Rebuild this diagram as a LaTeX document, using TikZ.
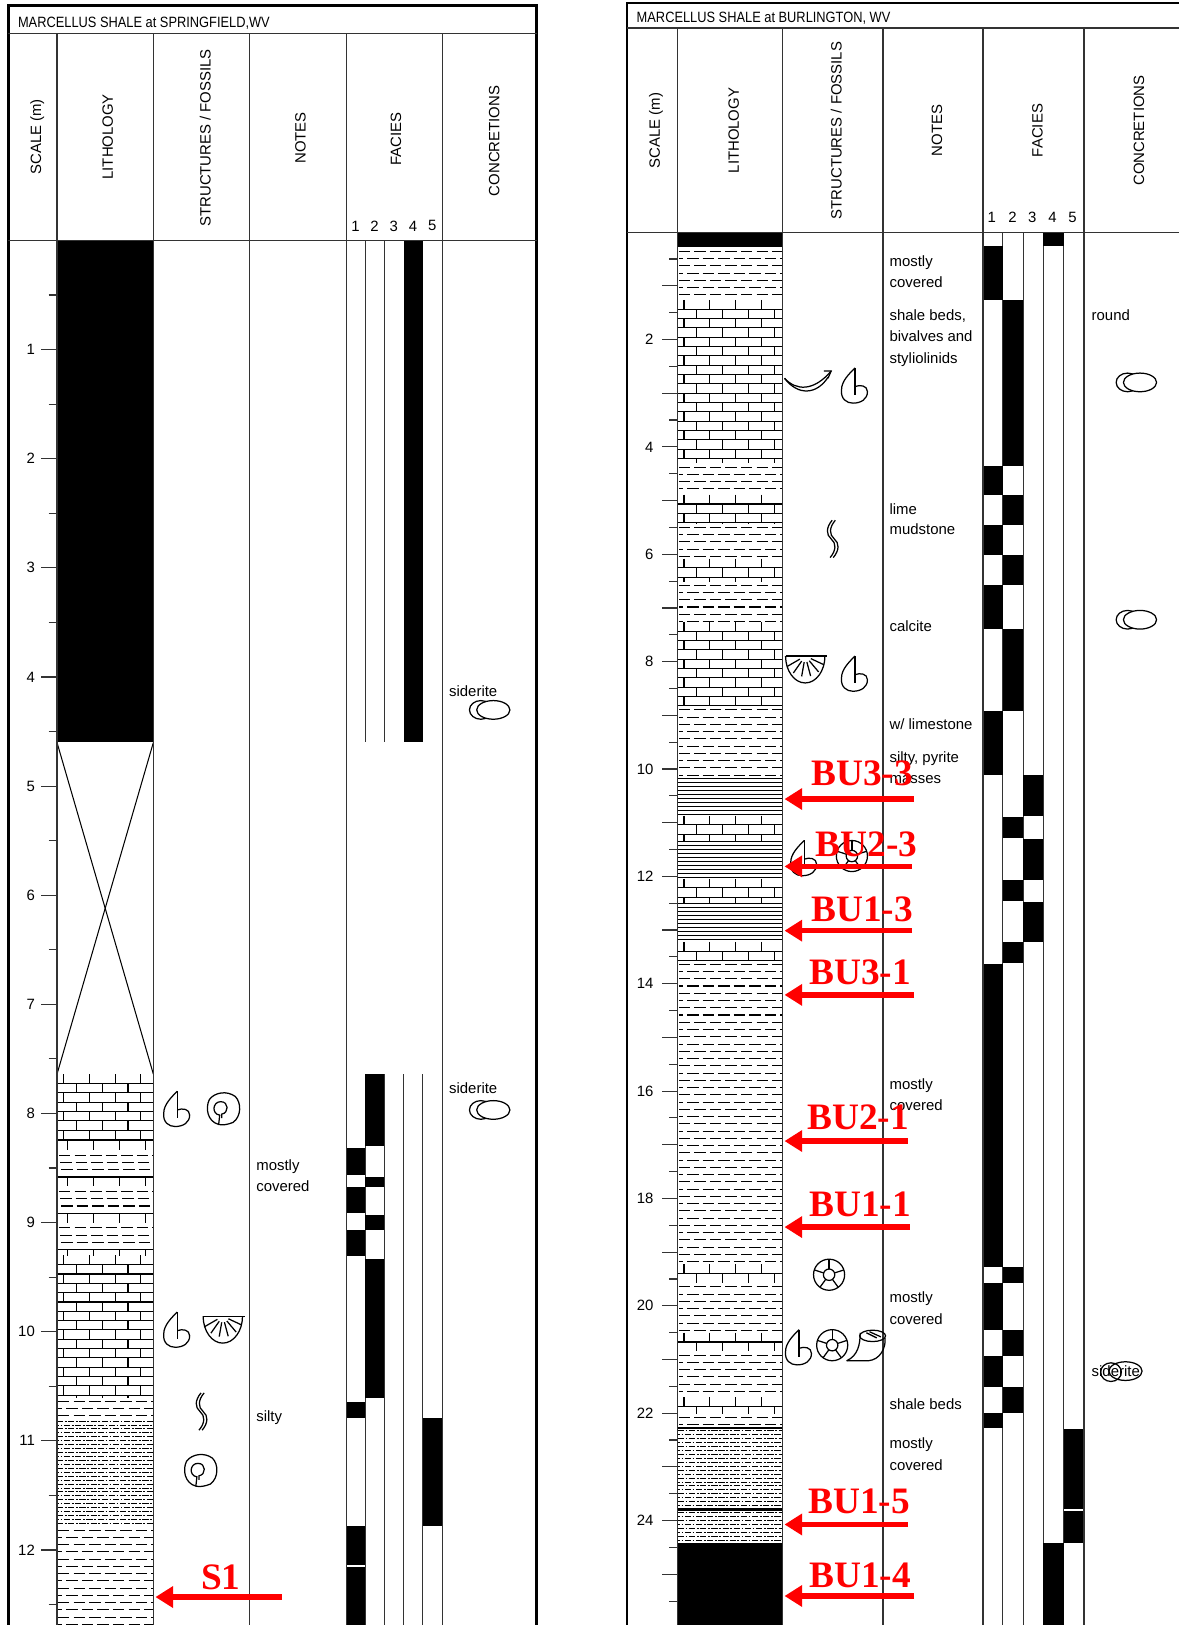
\documentclass[tikz,border=0pt]{standalone}
\usepackage{fontspec}
\setmainfont{Liberation Sans}
\newfontfamily\labfont{Liberation Serif}
\usetikzlibrary{arrows.meta}

% lithology patterns: #1 x-left, #2 x-right, #3 y-top, #4 y-bottom
\newcommand\ShalePat[4]{%
 \begin{scope}
  \clip (#1,#3) rectangle (#2,#4);
  \pgfmathtruncatemacro\nr{((#4)-(#3))/7+1}
  \foreach \ri in {0,...,\nr}{
    \pgfmathsetmacro\yy{#3+4+7*\ri}
    \pgfmathsetmacro\ph{mod(\ri,2)*3.5}
    \draw[litho, dash pattern=on 5.5pt off 2pt, dash phase=\ph pt] (#1+1,\yy) -- (#2,\yy);
  }
 \end{scope}}
\newcommand\LimePat[4]{%
 \begin{scope}
  \clip (#1,#3) rectangle (#2,#4);
  \pgfmathtruncatemacro\nr{((#4)-(#3))/9+1}
  \foreach \ri in {0,...,\nr}{
    \pgfmathsetmacro\ya{#3+9*\ri}
    \pgfmathsetmacro\yb{\ya+9}
    \pgfmathsetmacro\off{mod(\ri,2)*12.5}
    \draw[litho] (#1,\yb) -- (#2,\yb);
    \foreach \ci in {0,...,4}{
      \draw[litho] ({#1+6+\off+25*\ci},\ya) -- ({#1+6+\off+25*\ci},\yb);
    }
  }
 \end{scope}}
\newcommand\InterPat[4]{%
 \begin{scope}
  \clip (#1,#3) rectangle (#2,#4);
  \pgfmathtruncatemacro\nr{((#4)-(#3))/35+1}
  \foreach \ri in {0,...,\nr}{
    \pgfmathsetmacro\ya{#3+35*\ri}
    \draw[litho] (#1,\ya) -- (#2,\ya);
    \foreach \ci in {0,...,4}{ \draw[litho] ({#1+10+25*\ci},\ya) -- ({#1+10+25*\ci},\ya+9); }
    \foreach \kk in {14,21,28}{ \draw[litho, dash pattern=on 5.5pt off 2pt, dash phase=\kk pt] (#1,\ya+\kk) -- (#2,\ya+\kk); }
  }
 \end{scope}}
\newcommand\SiltPat[4]{%
 \begin{scope}
  \clip (#1,#3) rectangle (#2,#4);
  \pgfmathtruncatemacro\nr{((#4)-(#3))/3.8+1}
  \foreach \ri in {0,...,\nr}{
    \pgfmathsetmacro\yy{#3+2+3.8*\ri}
    \pgfmathsetmacro\ph{mod(\ri,2)*2}
    \draw[litho, line width=0.45pt, dash pattern=on 3pt off 0.8pt on 0.8pt off 0.8pt, dash phase=\ph pt] (#1,\yy) -- (#2,\yy);
  }
 \end{scope}}
\newcommand\LamPat[4]{%
 \begin{scope}
  \clip (#1,#3) rectangle (#2,#4);
  \pgfmathtruncatemacro\nr{((#4)-(#3))/3.9+1}
  \foreach \ri in {0,...,\nr}{
    \pgfmathsetmacro\yy{#3+1+3.9*\ri}
    \draw[litho, line width=0.45pt] (#1,\yy) -- (#2,\yy);
  }
 \end{scope}}
\newcommand\FB[4]{\fill (#1,#3) rectangle (#2,#4);}

\tikzset{
 gastro/.pic={
   \draw[fos] (1,-17) .. controls (-5,-11) and (-12,-4) .. (-12,4)
      .. controls (-13,13) and (-7,17) .. (-1,17)
      .. controls (7,17) and (13,13) .. (13,6)
      .. controls (13,0) and (6,-1) .. (1,1);
   \draw[fos] (1,-17) -- (1,9);
 },
 ammon/.pic={
   \draw[fos] (-4,16) .. controls (-15,13) and (-17,0) .. (-13,-8)
      .. controls (-8,-15) and (4,-17) .. (12,-11)
      .. controls (18,-5) and (18,8) .. (10,14)
      .. controls (5,16) and (0,17) .. (-4,16);
   \draw[fos] (-4,16) -- (-3,7) .. controls (-11,6) and (-10,-6) .. (-2,-6)
      .. controls (6,-6) and (6,5) .. (-1,6) -- (-1,10);
 },
 brach/.pic={
   \draw[fos] (-19,-12) -- (21,-12);
   \draw[fos] (19,-12) arc[start angle=0,end angle=180,x radius=19,y radius=26];
   \foreach \aa in {25,50,75,100,125,150}{ \draw[fos] (0,-12) ++(\aa:6) -- ++(\aa:14); }
 },
 burrow/.pic={
   \draw[fos] (1,-18) .. controls (-5,-11) and (-5,-4) .. (0,0) .. controls (5,4) and (5,11) .. (-1,18);
   \draw[fos] (4,-18) .. controls (-2,-11) and (-2,-4) .. (3,0) .. controls (8,4) and (8,11) .. (2,18);
 },
 crinoid/.pic={
   \draw[fos] (0,0) circle[radius=15];
   \draw[fos] (0,0) circle[radius=5.5];
   \foreach \aa in {-90,-18,54,126,198}{ \draw[fos] (\aa:5.5) -- (\aa:15); }
 },
 bivalve/.pic={
   \draw[fos] (-23,-3) .. controls (-12,9) and (5,10) .. (22,-10);
   \draw[fos] (-23,-3) .. controls (-10,14) and (8,13) .. (19,-4);
   \draw[fos] (15,-10) -- (22,-10) -- (19,-3);
 },
 horncoral/.pic={
   \draw[fos] (-19,16) .. controls (-8,11) and (-6,0) .. (-6,-11);
   \draw[fos] (-19,16) -- (2,16) .. controls (13,15) and (19,4) .. (18,-6);
   \draw[fos] (6,-8) ellipse[x radius=12.5, y radius=5.5];
   \draw[fos] (0,-11) -- (10,-6); \draw[fos] (3,-12) -- (14,-7);
 },
 concr/.pic={
   \draw[fos] (-8,0) ellipse[x radius=11, y radius=9];
   \fill[white] (4,0) ellipse[x radius=16, y radius=9];
   \draw[fos] (4,0) ellipse[x radius=16, y radius=9];
 },
}

\begin{document}
\begin{tikzpicture}[x=0.5pt,y=-0.5pt,
  frame/.style={line width=1.3pt, draw=black},
  grid/.style={line width=0.55pt, draw=black!80},
  litho/.style={line width=0.5pt, draw=black},
  fos/.style={line width=0.6pt, draw=black},
  lab/.style={font=\fontsize{7.2}{8}\selectfont, inner sep=0pt},
  head/.style={lab, rotate=90},
  note/.style={lab, anchor=base west},
  redarr/.style={draw=red, line width=2.5pt, -{Triangle[length=8.5pt,width=10pt]}},
  redlab/.style={font=\labfont\bfseries\fontsize{18}{18}\selectfont, text=red, inner sep=0pt},
]
\fill[white] (0,0) rectangle (1137,1568);
\useasboundingbox (0,0) rectangle (1137,1568);

%================ LEFT PANEL (Springfield) ================
% lithology
\fill (55,232) rectangle (148,716.4);
\draw[litho] (55,716.4) -- (148,1036.5);
\draw[litho] (148,716.4) -- (55,1036.5);
\LimePat{55}{148}{1036.5}{1100.7}
\InterPat{55}{148}{1100.7}{1211.3}
\LimePat{55}{148}{1211.3}{1348.2}
\ShalePat{55}{148}{1348.2}{1369.2}
\SiltPat{55}{148}{1369.2}{1472.4}
\ShalePat{55}{148}{1472.4}{1575}

% facies
\draw[grid] (352.5,232) -- (352.5,716.4);
\draw[grid] (371,232) -- (371,716.4);
\FB{389.5}{408}{232}{716.4}
\foreach \xx in {352.5,371,389.5,408}{ \draw[grid] (\xx,1036.5) -- (\xx,1575); }
\FB{334}{352.5}{1108.1}{1133.4}
\FB{334}{352.5}{1145}{1170.2}
\FB{334}{352.5}{1187}{1212.3}
\FB{334}{352.5}{1352.4}{1368.2}
\FB{334}{352.5}{1472.4}{1510.5}
\FB{334}{352.5}{1512}{1575}
\FB{352.5}{371}{1036.5}{1106}
\FB{352.5}{371}{1135.5}{1145}
\FB{352.5}{371}{1172.3}{1187}
\FB{352.5}{371}{1214.4}{1349.2}
\FB{408}{426.6}{1368.2}{1472.4}

% frame and grid
\draw[frame] (8,1575) -- (8,5) -- (518,5) -- (518,1575);
\draw[grid] (8,32) -- (518,32);
\draw[grid] (8,232) -- (518,232);
\foreach \xx in {55,148,241,334,427}{ \draw[grid] (\xx,32) -- (\xx,1575); }

% titles and headers
\node[lab, anchor=base west] (tl) at (17,27) {\scalebox{0.86}[1]{MARCELLUS SHALE at SPRINGFIELD,WV}};
\node[head] (hl1) at (36,132) {SCALE (m)};
\node[head] (hl2) at (104,132) {LITHOLOGY};
\node[head] (hl3) at (198,133) {STRUCTURES / FOSSILS};
\node[head] (hl4) at (290,133) {NOTES};
\node[head] (hl5) at (382,134) {FACIES};
\node[head] (hl6) at (477,136) {CONCRETIONS};
\foreach \nn/\xx in {1/343,2/361.5,3/380,4/398.5,5/417}{ \node[lab] (fl\nn) at (\xx,218) {\nn}; }

% scale
\foreach \k in {1,...,25}{ \pgfmathsetmacro\yy{232+52.65*\k} \draw[grid] (47,\yy) -- (55,\yy); }
\foreach \k in {1,...,12}{ \pgfmathsetmacro\yy{232+105.3*\k} \draw[grid] (40,\yy) -- (55,\yy); \node[lab, anchor=east] (sl\k) at (34,\yy) {\k}; }

% fossils
\pic at (170,1070) {gastro};
\pic at (215,1069) {ammon};
\pic at (170,1283) {gastro};
\pic at (215,1282) {brach};
\pic at (193,1362) {burrow};
\pic at (193,1418) {ammon};

% notes
\node[note] (nl1) at (247,1129) {mostly};
\node[note] (nl2) at (247,1150) {covered};
\node[note] (nl3) at (247,1372) {silty};

% concretions
\node[note] (cl1) at (433,672) {siderite};
\pic at (472,685) {concr};
\node[note] (cl2) at (433,1055) {siderite};
\pic at (472,1071) {concr};

% sample arrow
\node[redlab] (s1) at (213,1522) {S1};
\coordinate (s1t) at (272,1541);
\coordinate (s1h) at (150,1541);
\draw[redarr] (s1t) -- (s1h);

%================ RIGHT PANEL (Burlington) ================
\fill (654,224) rectangle (755,238.5);
\ShalePat{654}{755}{238.5}{289.3}
\LimePat{654}{755}{289.3}{446.7}
\ShalePat{654}{755}{446.7}{477.3}
\LimePat{654}{755}{477.3}{504.8}
\ShalePat{654}{755}{504.8}{539}
\LimePat{654}{755}{539}{560.7}
\ShalePat{654}{755}{560.7}{600}
\LimePat{654}{755}{600}{680.9}
\ShalePat{654}{755}{680.9}{749.8}
\LamPat{654}{755}{749.8}{787}
\LimePat{654}{755}{787}{810.9}
\LamPat{654}{755}{810.9}{847.7}
\LimePat{654}{755}{847.7}{870.5}
\LamPat{654}{755}{870.5}{908.8}
\LimePat{654}{755}{908.8}{926.4}
\ShalePat{654}{755}{926.4}{1220.1}
\LimePat{654}{755}{1220.1}{1237.7}
\ShalePat{654}{755}{1237.7}{1285.9}
\LimePat{654}{755}{1285.9}{1303.5}
\ShalePat{654}{755}{1303.5}{1348}
\LimePat{654}{755}{1348}{1363.6}
\ShalePat{654}{755}{1363.6}{1377.6}
\fill (654,1376.6) rectangle (755,1378.6);
\SiltPat{654}{755}{1378.6}{1455.3}
\fill (654,1455) rectangle (755,1457.5);
\SiltPat{654}{755}{1457.5}{1488.9}
\fill (654,1488.9) rectangle (755,1575);

% facies
\foreach \xx in {967.7,987.5,1006.5,1026.3}{ \draw[grid] (\xx,224) -- (\xx,1575); }
\FB{948.5}{967.7}{237.5}{289.3}
\FB{948.5}{967.7}{449.8}{477.8}
\FB{948.5}{967.7}{506.3}{535.3}
\FB{948.5}{967.7}{564.8}{606.8}
\FB{948.5}{967.7}{686}{748.2}
\FB{948.5}{967.7}{930}{1222.2}
\FB{948.5}{967.7}{1237.7}{1283.8}
\FB{948.5}{967.7}{1308.7}{1338.8}
\FB{948.5}{967.7}{1363.6}{1378.1}
\FB{967.7}{987.5}{289.3}{449.8}
\FB{967.7}{987.5}{477.8}{506.3}
\FB{967.7}{987.5}{535.3}{564.8}
\FB{967.7}{987.5}{606.8}{686}
\FB{967.7}{987.5}{788.6}{808.3}
\FB{967.7}{987.5}{848.7}{869.4}
\FB{967.7}{987.5}{908.8}{929}
\FB{967.7}{987.5}{1222.2}{1237.7}
\FB{967.7}{987.5}{1283.8}{1308.7}
\FB{967.7}{987.5}{1338.8}{1363.6}
\FB{987.5}{1006.5}{748.2}{787}
\FB{987.5}{1006.5}{809.9}{848.7}
\FB{987.5}{1006.5}{870.5}{908.8}
\FB{1006.5}{1026.3}{224}{237.5}
\FB{1006.5}{1026.3}{1488.9}{1575}
\FB{1026.3}{1046}{1379.1}{1455.8}
\FB{1026.3}{1046}{1457.5}{1488.9}

% frame and grid
\draw[frame] (605,1575) -- (605,3) -- (1145,3);
\draw[grid] (605,27) -- (1145,27);
\draw[grid] (605,224) -- (1145,224);
\foreach \xx in {654,755,852,948.5,1046}{ \draw[grid] (\xx,27) -- (\xx,1575); }

% titles and headers
\node[lab, anchor=base west] (tr) at (614,22) {\scalebox{0.86}[1]{MARCELLUS SHALE at BURLINGTON, WV}};
\node[head] (hr1) at (633,126) {SCALE (m)};
\node[head] (hr2) at (708,126) {LITHOLOGY};
\node[head] (hr3) at (807,126) {STRUCTURES / FOSSILS};
\node[head] (hr4) at (904,126) {NOTES};
\node[head] (hr5) at (1001,126) {FACIES};
\node[head] (hr6) at (1099,126) {CONCRETIONS};
\foreach \nn/\xx in {1/957,2/977,3/996,4/1015.5,5/1035}{ \node[lab] (fr\nn) at (\xx,210) {\nn}; }

% scale
\foreach \k in {1,...,26}{ \pgfmathsetmacro\yy{224+51.8*(\k-0.5)} \draw[grid] (646,\yy) -- (654,\yy); }
\foreach \k in {1,...,26}{ \pgfmathsetmacro\yy{224+51.8*\k} \draw[grid] (639,\yy) -- (654,\yy); }
\foreach \k in {2,4,...,24}{ \pgfmathsetmacro\yy{224+51.8*\k} \node[lab, anchor=east] (sr\k) at (631,\yy) {\k}; }

% fossils
\pic at (780,368) {bivalve};
\pic at (824,372) {gastro};
\pic at (802,520) {burrow};
\pic at (777,645) {brach};
\pic at (824,650) {gastro};
\pic at (775,828) {gastro};
\pic at (822,826) {crinoid};
\pic at (800,1230) {crinoid};
\pic at (770,1300) {gastro};
\pic at (803,1298) {crinoid};
\pic at (836,1297) {horncoral};

% notes
\node[note] (nr1) at (858,257) {mostly};
\node[note] (nr2) at (858,277) {covered};
\node[note] (nr3) at (858,309) {shale beds,};
\node[note] (nr4) at (858,330) {bivalves and};
\node[note] (nr5) at (858,351) {styliolinids};
\node[note] (nr6) at (858,496) {lime};
\node[note] (nr7) at (858,516) {mudstone};
\node[note] (nr8) at (858,609) {calcite};
\node[note] (nr9) at (858,704) {w/ limestone};
\node[note] (nr10) at (858,736) {silty, pyrite};
\node[note] (nr11) at (858,756) {masses};
\node[note] (nr12) at (858,1051) {mostly};
\node[note] (nr13) at (858,1072) {covered};
\node[note] (nr14) at (858,1257) {mostly};
\node[note] (nr15) at (858,1278) {covered};
\node[note] (nr16) at (858,1360) {shale beds};
\node[note] (nr17) at (858,1398) {mostly};
\node[note] (nr18) at (858,1419) {covered};

% concretions
\node[note] (cr1) at (1053,309) {round};
\pic at (1096,369) {concr};
\pic at (1096,598) {concr};
\node[note] (cr2) at (1053,1328) {siderite};
\begin{scope}[fos]
  \draw (1072,1324) ellipse[x radius=10, y radius=9];
  \draw (1086,1323) ellipse[x radius=16, y radius=9];
\end{scope}

% sample arrows
\foreach \nm/\ay/\tx in {a33/771/882, a23/836/880, a13/898/880, a31/960/882, a21/1101/876, a11/1184/878, a15/1471/876, a14/1540/882}{
  \coordinate (\nm t) at (\tx,\ay);
  \coordinate (\nm h) at (757,\ay);
  \draw[redarr] (\nm t) -- (\nm h);
}
\node[redlab] (bu33) at (832,746) {BU3-3};
\node[redlab] (bu23) at (836,815) {BU2-3};
\node[redlab] (bu13) at (832,877) {BU1-3};
\node[redlab] (bu31) at (830,938) {BU3-1};
\node[redlab] (bu21) at (828,1078) {BU2-1};
\node[redlab] (bu11) at (830,1162) {BU1-1};
\node[redlab] (bu15) at (829,1449) {BU1-5};
\node[redlab] (bu14) at (830,1520) {BU1-4};
\end{tikzpicture}
\end{document}
